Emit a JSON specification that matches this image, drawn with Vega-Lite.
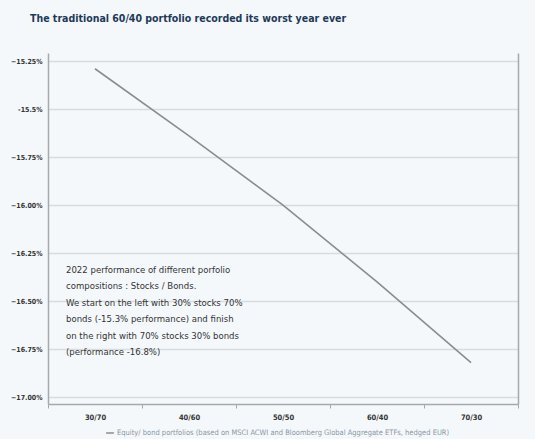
{
  "$schema": "https://vega.github.io/schema/vega-lite/v6.json",
  "width": 470,
  "height": 351,
  "autosize": {"type": "none"},
  "padding": {"left": 48, "top": 53, "right": 17, "bottom": 35},
  "background": "#f4f8fb",
  "title": {
    "text": "The traditional 60/40 portfolio recorded its worst year ever",
    "anchor": "start",
    "frame": "group",
    "dx": -18,
    "offset": 29,
    "font": "DejaVu Sans Condensed",
    "fontSize": 10.5,
    "fontWeight": "bold",
    "color": "#1d3a5a"
  },
  "config": {
    "view": {"stroke": null},
    "font": "DejaVu Sans Condensed"
  },
  "resolve": {"axis": {"y": "independent"}},
  "layer": [
    {
      "data": {
        "values": [
          {"mix": "30/70", "perf": -15.29, "series": "Equity/ bond portfolios (based on MSCI ACWI and Bloomberg Global Aggregate ETFs, hedged EUR)"},
          {"mix": "40/60", "perf": -15.64, "series": "Equity/ bond portfolios (based on MSCI ACWI and Bloomberg Global Aggregate ETFs, hedged EUR)"},
          {"mix": "50/50", "perf": -16.0, "series": "Equity/ bond portfolios (based on MSCI ACWI and Bloomberg Global Aggregate ETFs, hedged EUR)"},
          {"mix": "60/40", "perf": -16.4, "series": "Equity/ bond portfolios (based on MSCI ACWI and Bloomberg Global Aggregate ETFs, hedged EUR)"},
          {"mix": "70/30", "perf": -16.82, "series": "Equity/ bond portfolios (based on MSCI ACWI and Bloomberg Global Aggregate ETFs, hedged EUR)"}
        ]
      },
      "mark": {"type": "line", "strokeWidth": 1.6},
      "encoding": {
        "x": {
          "field": "mix",
          "type": "ordinal",
          "scale": {"type": "band", "paddingInner": 0, "paddingOuter": 0},
          "axis": {
            "title": null,
            "labelAngle": 0,
            "labelFont": "DejaVu Sans Condensed",
            "labelFontSize": 7.5,
            "labelFontWeight": "bold",
            "labelColor": "#333333",
            "labelPadding": 5,
            "domainColor": "#a6a9ac",
            "domainWidth": 1.5,
            "tickColor": "#a6a9ac",
            "tickSize": 4,
            "tickBand": "extent",
            "grid": false
          }
        },
        "y": {
          "field": "perf",
          "type": "quantitative",
          "scale": {"domain": [-17.036, -15.208], "nice": false, "zero": false},
          "axis": {
            "title": null,
            "values": [-15.25, -15.5, -15.75, -16, -16.25, -16.5, -16.75, -17],
            "labelExpr": "datum.value == -15.5 ? '-15.5%' : format(datum.value, '.2f') + '%'",
            "labelFont": "DejaVu Sans Condensed",
            "labelFontSize": 7,
            "labelFontWeight": "bold",
            "labelColor": "#333333",
            "labelPadding": 6,
            "ticks": false,
            "domainColor": "#a6a9ac",
            "domainWidth": 1.5,
            "grid": true,
            "gridColor": "#d9dcdf",
            "gridWidth": 1.5
          }
        },
        "color": {
          "field": "series",
          "type": "nominal",
          "scale": {"range": ["#8c8c8c"]},
          "legend": {
            "title": null,
            "orient": "none",
            "legendX": 57,
            "legendY": 375,
            "symbolType": "stroke",
            "symbolSize": 60,
            "symbolStrokeWidth": 1.5,
            "labelFont": "DejaVu Sans Condensed",
            "labelFontSize": 7.5,
            "labelColor": "#8a97a3",
            "labelLimit": 500,
            "labelOffset": 2
          }
        }
      }
    },
    {
      "data": {
        "values": [
          {"mix": "30/70", "pos": -16.31, "note": ["2022 performance of different porfolio", "compositions : Stocks / Bonds.", "We start on the left with 30% stocks 70%", "bonds (-15.3% performance) and finish", "on the right with 70% stocks 30% bonds", "(performance -16.8%)"]}
        ]
      },
      "mark": {
        "type": "text",
        "align": "left",
        "baseline": "top",
        "dx": 18,
        "font": "DejaVu Sans Condensed",
        "fontSize": 9.5,
        "lineHeight": 16.5,
        "color": "#333333"
      },
      "encoding": {
        "x": {"field": "mix", "type": "ordinal", "bandPosition": 0},
        "y": {
          "field": "pos",
          "type": "quantitative",
          "axis": {"orient": "right", "title": null, "labels": false, "ticks": false, "grid": false, "domainColor": "#a6a9ac", "domainWidth": 1.5}
        },
        "text": {"field": "note"}
      }
    }
  ]
}
